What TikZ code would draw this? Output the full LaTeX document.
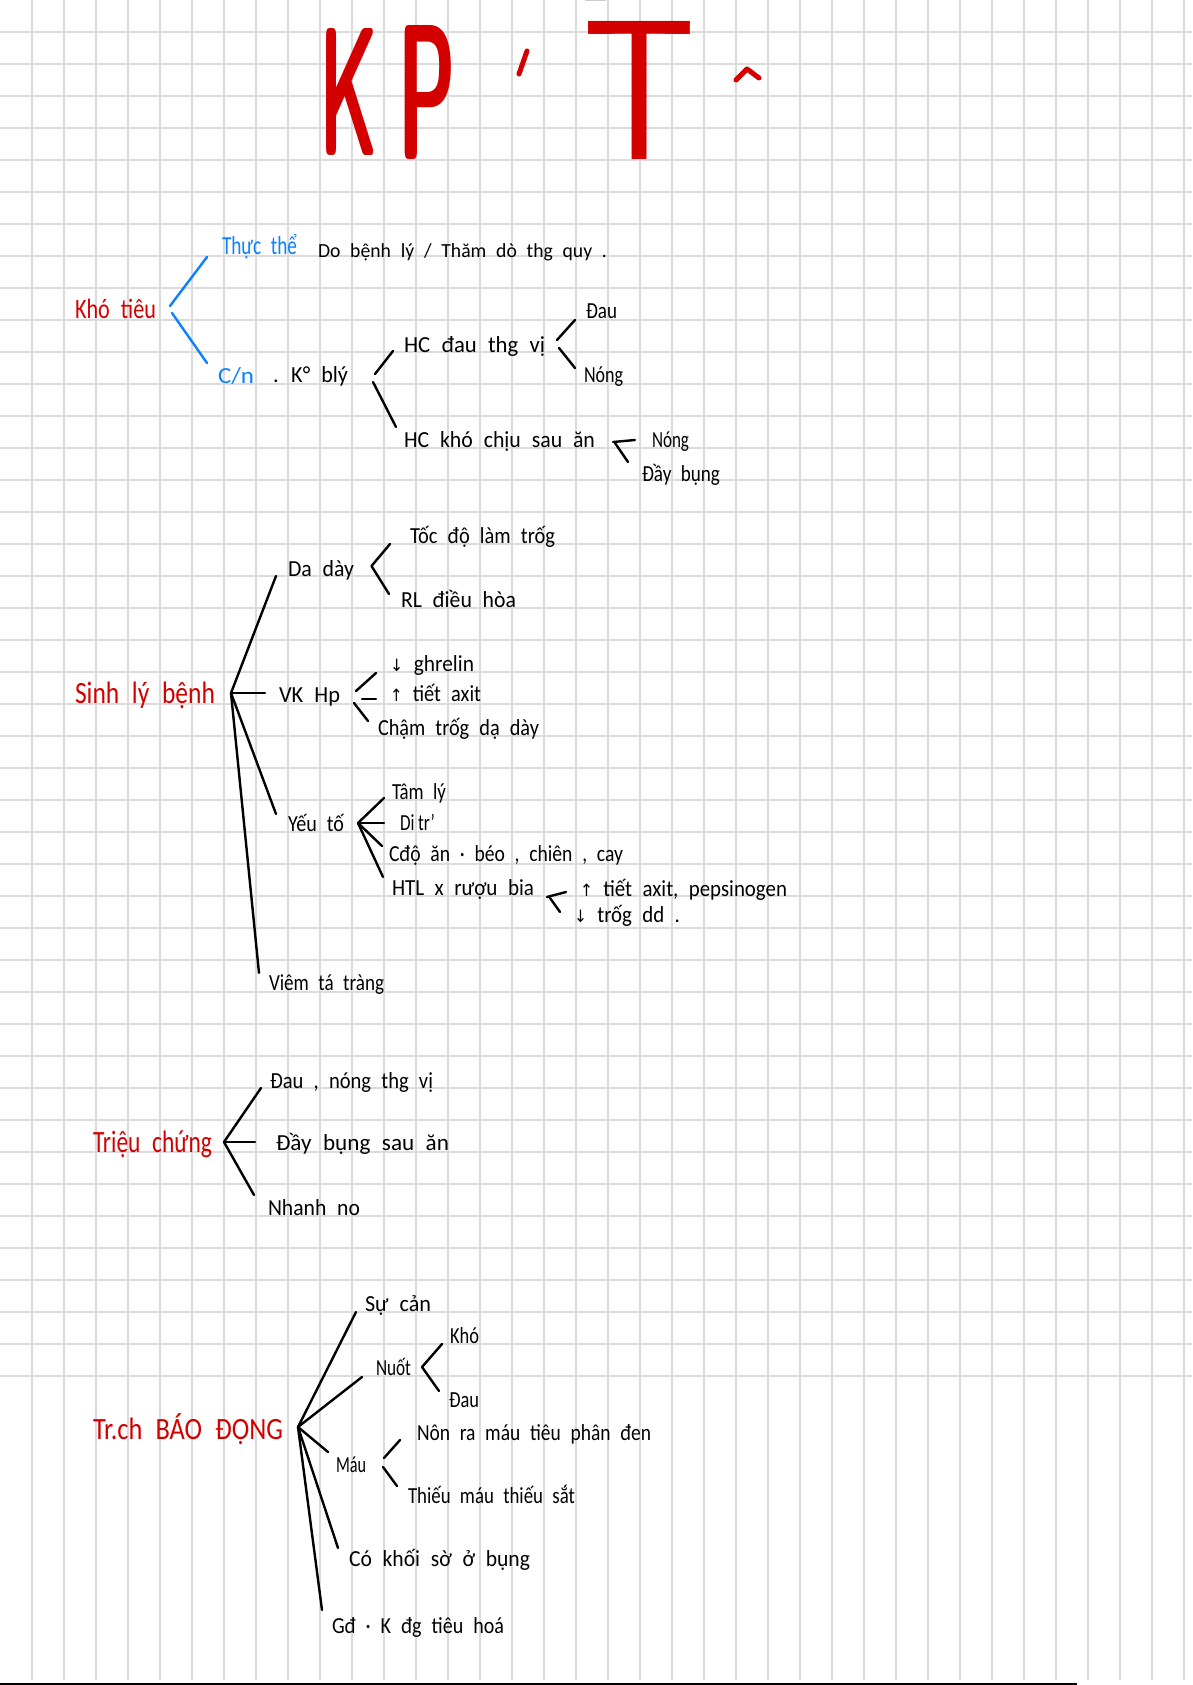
\documentclass[tikz,border=0pt]{standalone}
\usepackage{fontspec}
\setmainfont{Carlito}[WordSpace=2.2]
\newfontfamily\arrfont{DejaVu Sans}
\usepackage{graphicx}
\definecolor{hred}{RGB}{212,0,0}
\definecolor{hblue}{RGB}{12,128,255}
\definecolor{gridc}{RGB}{219,219,219}
\newcommand{\fitw}[2]{\resizebox{#1pt}{\height}{#2}}
\newcommand{\dn}{{\arrfont\fontsize{17}{19}\selectfont ↓}}
\newcommand{\up}{{\arrfont\fontsize{17}{19}\selectfont ↑}}
\tikzset{
  hw/.style={anchor=base west, inner sep=0pt, outer sep=0pt, text=black, font=\fontsize{23}{26}\selectfont},
  hwsmall/.style={hw, font=\fontsize{20}{23}\selectfont},
  hwred/.style={hw, text=hred, font=\fontsize{30}{34}\selectfont},
  hwblue/.style={hw, text=hblue, font=\fontsize{26}{30}\selectfont},
  pen/.style={line width=2.4pt, line cap=round, line join=round, draw=black},
  bpen/.style={pen, draw=hblue},
  titleglyph/.style={anchor=north west, inner sep=0pt, outer sep=0pt, text=hred, font=\sffamily\bfseries},
  titlepen/.style={line width=5pt, line cap=round, line join=round, draw=hred},
  gridline/.style={draw=gridc, line width=1.5pt}
}
\begin{document}
\begin{tikzpicture}[x=1pt,y=-1pt]
\useasboundingbox (0,0) rectangle (1192,1685);
\fill[white] (0,0) rectangle (1192,1685);
% grid paper
\foreach \k in {1,...,37} {\draw[gridline] (32*\k,0) -- (32*\k,1680);}
\foreach \k in {1,...,43} {\draw[gridline] (0,32*\k) -- (1192,32*\k);}
\draw[black, line width=2pt] (0,1684) -- (1077,1684);
\fill[gray!40] (585,0) rectangle (606,1.5);

% ---------- title ----------
\node[titleglyph] (tK) at (319,28) {\resizebox{59pt}{127pt}{K}};
\node[titleglyph] (tP) at (397,25) {\resizebox{59pt}{134pt}{P}};
\node[titleglyph, font=\sffamily] (tT) at (582,21) {\resizebox{114pt}{138pt}{T}};
\coordinate (ap1) at (527,51); \coordinate (ap2) at (519,74);
\draw[titlepen] (ap1) -- (ap2);
\coordinate (ci1) at (736,80); \coordinate (ci2) at (747,69); \coordinate (ci3) at (759,78);
\draw[titlepen] (ci1) -- (ci2) -- (ci3);

% ---------- Khó tiêu ----------
\node[hwred, font=\fontsize{28}{32}\selectfont] (kt) at (75,319) {\fitw{81}{Khó tiêu}};
\node[hwblue] (tt) at (222,255) {\fitw{75}{Thực thể}};
\node[hwsmall] (db) at (318,258) {\fitw{289}{Do bệnh lý / Thăm dò thg quy .}};
\node[hwblue, font=\fontsize{23}{26}\selectfont] (cn) at (218,383) {\fitw{36}{C/n}};
\node[hw] (kb) at (273,382) {\fitw{75}{. K° blý}};
\node[hw] (hc1) at (404,352) {\fitw{141}{HC đau thg vị}};
\node[hw] (dau1) at (586,319) {\fitw{31}{Đau}};
\node[hw] (nong1) at (584,382) {\fitw{39}{Nóng}};
\node[hw] (hc2) at (404,447) {\fitw{191}{HC khó chịu sau ăn}};
\node[hw] (nong2) at (652,447) {\fitw{37}{Nóng}};
\node[hw] (day1) at (642,481) {\fitw{78}{Đầy bụng}};

\coordinate (a1) at (170,306); \coordinate (a2) at (207,257);
\coordinate (a3) at (172,313); \coordinate (a4) at (207,363);
\draw[bpen] (a1) -- (a2); \draw[bpen] (a3) -- (a4);
\coordinate (b1) at (375,374); \coordinate (b2) at (393,351);
\coordinate (b3) at (373,382); \coordinate (b4) at (396,427);
\draw[pen] (b1) -- (b2); \draw[pen] (b3) -- (b4);
\coordinate (c1) at (557,340); \coordinate (c2) at (575,320);
\coordinate (c3) at (559,348); \coordinate (c4) at (575,368);
\draw[pen] (c1) -- (c2); \draw[pen] (c3) -- (c4);
\coordinate (d1) at (613,442); \coordinate (d2) at (635,440);
\coordinate (d3) at (615,443); \coordinate (d4) at (628,462);
\draw[pen] (d1) -- (d2); \draw[pen] (d3) -- (d4);

% ---------- Sinh lý bệnh ----------
\node[hwred, font=\fontsize{31}{35}\selectfont] (slb) at (75,703) {\fitw{140}{Sinh lý bệnh}};
\coordinate (s2) at (231,693);
\node[hw] (dd) at (288,576) {\fitw{66}{Da dày}};
\node[hw] (toc) at (410,543) {\fitw{145}{Tốc độ làm trốg}};
\node[hw] (rl) at (401,607) {\fitw{115}{RL điều hòa}};
\node[hw] (vk) at (279,702) {\fitw{61}{VK Hp}};
\node[hw] (gh) at (390,671) {\fitw{84}{\dn\ ghrelin}};
\node[hw] (ta) at (390,701) {\fitw{91}{\up\ tiết axit}};
\node[hw] (cham) at (378,735) {\fitw{161}{Chậm trốg dạ dày}};
\node[hw] (yt) at (288,831) {\fitw{56}{Yếu tố}};
\node[hw] (tl) at (392,799) {\fitw{54}{Tâm lý}};
\node[hw] (di) at (400,830) {\fitw{35}{Di\kern5pt tr’}};
\node[hw] (cdo) at (389,861) {\fitw{234}{Cđộ ăn · béo , chiên , cay}};
\node[hw] (htl) at (392,895) {\fitw{142}{HTL x rượu bia}};
\node[hw] (ta2) at (580,896) {\fitw{207}{\up\ tiết axit, pepsinogen}};
\node[hw] (tr2) at (574,922) {\fitw{106}{\dn\ trốg dd .}};
\node[hw] (vtt) at (269,990) {\fitw{115}{Viêm tá tràng}};

\coordinate (e1) at (276,576); \coordinate (e2) at (265,693);
\coordinate (e3) at (276,814); \coordinate (e4) at (259,973);
\draw[pen] (s2) -- (e1); \draw[pen] (s2) -- (e2);
\draw[pen] (s2) -- (e3); \draw[pen] (s2) -- (e4);
\coordinate (f1) at (390,544); \coordinate (f2) at (371.5,566); \coordinate (f3) at (389,594);
\draw[pen] (f1) -- (f2) -- (f3);
\coordinate (g1) at (356,691); \coordinate (g2) at (376,673);
\coordinate (g3) at (362,699); \coordinate (g4) at (376,699);
\coordinate (g5) at (354,703); \coordinate (g6) at (368,721);
\draw[pen] (g1) -- (g2); \draw[pen] (g3) -- (g4); \draw[pen] (g5) -- (g6);
\coordinate (yh) at (358,823);
\coordinate (y1) at (384,798); \coordinate (y2) at (384,823);
\coordinate (y3) at (382,846); \coordinate (y4) at (383,877);
\draw[pen] (yh) -- (y1); \draw[pen] (yh) -- (y2); \draw[pen] (yh) -- (y3); \draw[pen] (yh) -- (y4);
\coordinate (h1) at (547,897); \coordinate (h2) at (566,892);
\coordinate (h3) at (550,898); \coordinate (h4) at (560,912);
\draw[pen] (h1) -- (h2); \draw[pen] (h3) -- (h4);

% ---------- Triệu chứng ----------
\node[hwred, font=\fontsize{31}{35}\selectfont] (tc) at (93,1152) {\fitw{119}{Triệu chứng}};
\coordinate (s3) at (224,1142);
\node[hw] (sy1) at (270,1088) {\fitw{163}{Đau , nóng thg vị}};
\node[hw] (sy2) at (276,1150) {\fitw{173}{Đầy bụng sau ăn}};
\node[hw] (sy3) at (268,1215) {\fitw{92}{Nhanh no}};
\coordinate (t1) at (261,1088); \coordinate (t2) at (255,1142); \coordinate (t3) at (254,1195);
\draw[pen] (s3) -- (t1); \draw[pen] (s3) -- (t2); \draw[pen] (s3) -- (t3);

% ---------- Triệu chứng báo động ----------
\node[hwred, font=\fontsize{31}{35}\selectfont] (bd) at (93,1439) {\fitw{190}{Tr.ch BÁO ĐỘNG}};
\coordinate (s4) at (298,1427);
\node[hw] (sc) at (365,1311) {\fitw{66}{Sự cản}};
\node[hw] (nu) at (376,1375) {\fitw{35}{Nuốt}};
\node[hw] (kho) at (450,1343) {\fitw{29}{Khó}};
\node[hw] (dau2) at (449,1407) {\fitw{30}{Đau}};
\node[hw] (mau) at (336,1472) {\fitw{30}{Máu}};
\node[hw] (non) at (417,1440) {\fitw{234}{Nôn ra máu tiêu phân đen}};
\node[hw] (thieu) at (408,1503) {\fitw{167}{Thiếu máu thiếu sắt}};
\node[hw] (co) at (349,1566) {\fitw{181}{Có khối sờ ở bụng}};
\node[hw] (gd) at (332,1633) {\fitw{172}{Gđ · K đg tiêu hoá}};
\coordinate (u1) at (356,1312); \coordinate (u2) at (362,1377); \coordinate (u3) at (328,1452);
\coordinate (u4) at (338,1548); \coordinate (u5) at (322,1610);
\draw[pen] (s4) -- (u1); \draw[pen] (s4) -- (u2); \draw[pen] (s4) -- (u3);
\draw[pen] (s4) -- (u4); \draw[pen] (s4) -- (u5);
\coordinate (v1) at (442,1344); \coordinate (v2) at (422,1367); \coordinate (v3) at (439,1391);
\draw[pen] (v1) -- (v2) -- (v3);
\coordinate (w1) at (400,1440); \coordinate (w2) at (384,1458);
\coordinate (w3) at (383,1467); \coordinate (w4) at (397,1486);
\draw[pen] (w1) -- (w2); \draw[pen] (w3) -- (w4);
\end{tikzpicture}
\end{document}
